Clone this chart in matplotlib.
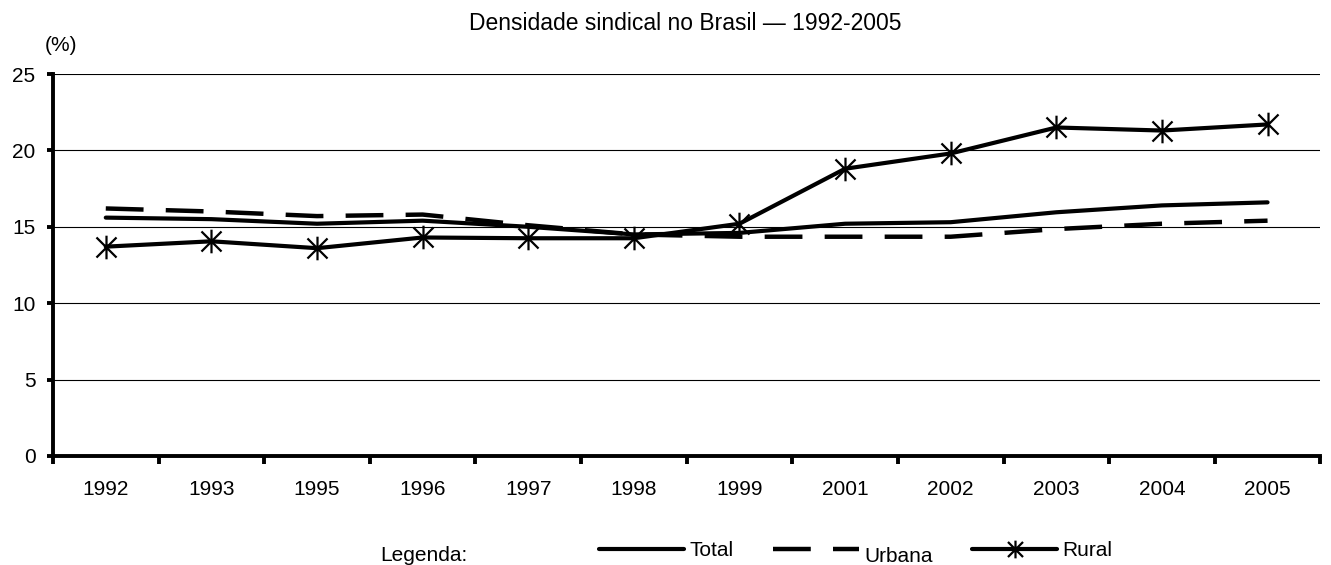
#!/usr/bin/env python3
"""Densidade sindical no Brasil, 1992-2005 (line chart)."""
import numpy as np
import matplotlib
matplotlib.use("Agg")
import matplotlib.pyplot as plt
from matplotlib.path import Path

plt.rcParams["font.family"] = ["Liberation Sans", "DejaVu Sans"]

YEARS = ["1992", "1993", "1995", "1996", "1997", "1998",
         "1999", "2001", "2002", "2003", "2004", "2005"]
TOTAL = [15.6, 15.5, 15.2, 15.4, 15.0, 14.5, 14.6, 15.2, 15.3, 15.95, 16.4, 16.6]
URBANA = [16.2, 16.0, 15.7, 15.8, 15.1, 14.5, 14.35, 14.35, 14.35, 14.85, 15.2, 15.4]
RURAL = [13.7, 14.05, 13.6, 14.3, 14.25, 14.25, 15.2, 18.8, 19.8, 21.5, 21.3, 21.7]
Y_TICKS = [0, 5, 10, 15, 20, 25]

FS = 15

# asterisk marker: vertical bar plus an X
STAR = Path(
    [(0, -1), (0, 1), (-0.85, -0.85), (0.85, 0.85), (-0.85, 0.85), (0.85, -0.85)],
    [Path.MOVETO, Path.LINETO, Path.MOVETO, Path.LINETO, Path.MOVETO, Path.LINETO],
)


def main() -> None:
    fig = plt.figure(figsize=(13.31, 5.65), dpi=100)
    ax = fig.add_axes([0.0398, 0.193, 0.9522, 0.676])
    x = np.arange(len(YEARS))

    ax.plot(x, TOTAL, color="black", lw=3.0, solid_capstyle="round", label="Total", zorder=3)
    ax.plot(x, URBANA, color="black", lw=3.2, dashes=(8.5, 5), label="Urbana", zorder=3)
    ax.plot(x, RURAL, color="black", lw=3.0, marker=STAR, markersize=17,
            markeredgewidth=1.6, solid_capstyle="round", label="Rural", zorder=4)

    ax.set_xlim(-0.5, len(YEARS) - 0.5)
    ax.set_ylim(0, 25)
    ax.set_yticks(Y_TICKS)
    ax.yaxis.grid(True, color="black", lw=0.8)
    ax.set_axisbelow(True)

    # category ticks on the boundaries, labels in the middle
    ax.set_xticks(np.arange(-0.5, len(YEARS)))
    ax.set_xticklabels([])
    ax.set_xticks(x, minor=True)
    ax.set_xticklabels(YEARS, minor=True, fontsize=FS)
    ax.tick_params(axis="x", which="major", direction="out", length=6, width=2.8)
    ax.tick_params(axis="x", which="minor", length=0, pad=17)
    ax.tick_params(axis="y", direction="out", length=4.5, width=2.8, labelsize=FS, pad=8)

    for side in ("top", "right"):
        ax.spines[side].set_visible(False)
    for side in ("left", "bottom"):
        ax.spines[side].set_linewidth(2.8)
    ax.spines["bottom"].set_zorder(5)

    fig.text(0.515, 0.958, "Densidade sindical no Brasil \u2014 1992-2005",
             ha="center", va="center", fontsize=16.5)
    fig.text(0.0458, 0.919, "(%)", ha="center", va="center", fontsize=FS)
    fig.text(0.2855, 0.016, "Legenda:", ha="left", va="center", fontsize=FS)

    leg = fig.legend(loc="center", bbox_to_anchor=(0.643, 0.025), ncol=3, frameon=False,
                     fontsize=FS, handlelength=4.1, handletextpad=0.25, columnspacing=1.9,
                     numpoints=1, markerscale=0.75)
    leg.get_texts()[1].set_position((0, -6))

    fig.savefig("out.png", dpi=100, facecolor="white")


if __name__ == "__main__":
    main()
